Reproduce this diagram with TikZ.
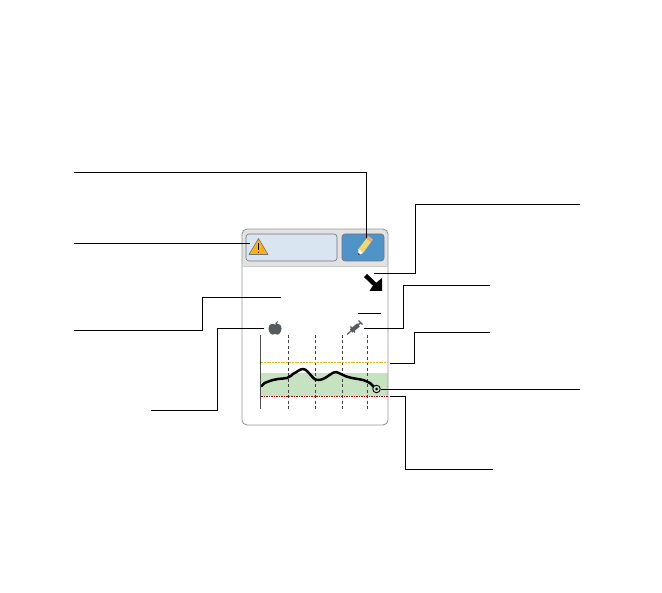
\documentclass[tikz,border=0pt]{standalone}
\usetikzlibrary{arrows.meta}
\definecolor{paneledge}{RGB}{150,150,150}
\definecolor{headfill}{RGB}{226,226,226}
\definecolor{warnfill}{RGB}{218,229,242}
\definecolor{bluefill}{RGB}{78,148,200}
\definecolor{bandgreen}{RGB}{198,226,192}
\definecolor{icongray}{RGB}{85,92,96}
\definecolor{warnorange}{RGB}{255,175,25}
\definecolor{pencilyellow}{RGB}{245,215,110}
\definecolor{pencilpink}{RGB}{235,170,140}
\definecolor{limityellow}{RGB}{240,180,20}
\tikzset{
  leader/.style={draw=black,line width=0.9pt},
  gridline/.style={draw=black!75,line width=0.7pt,dash pattern=on 3pt off 2.5pt},
  btn/.style={draw=black!55,line width=0.6pt,rounded corners=3pt}
}
\begin{document}
\begin{tikzpicture}[x=1pt,y=-1pt]
\useasboundingbox (0,0) rectangle (662,593);
\fill[white] (0,0) rectangle (662,593);
% panel
\begin{scope}
\path[clip,rounded corners=5pt] (242,229) rectangle (388,425);
\fill[headfill] (242,229) rectangle (388,266);
\fill[bandgreen] (261,373) rectangle (388,396);
\end{scope}
\draw[paneledge,line width=0.9pt,rounded corners=5pt] (242,229) rectangle (388,425);
\draw[black!20,line width=1.4pt] (243,266.5) -- (387,266.5);
\node[btn,fill=warnfill,minimum width=91pt,minimum height=27pt,inner sep=0pt] (warnbox) at (291.5,247.5) {};
\node[btn,fill=bluefill,minimum width=42pt,minimum height=27pt,inner sep=0pt] (editbox) at (363,247.5) {};
% warning triangle
\draw[fill=warnorange,draw=black!55,line width=0.6pt,line join=round] (249,254.5) -- (258.5,238.5) -- (268,254.5) -- cycle;
\draw[black,line width=0.8pt] (258.5,243) -- (258.5,250);
\fill[black] (258.5,252.3) circle (0.6pt);
% pencil
\fill[pencilyellow] (358.5,249) -- (366.5,238.5) -- (371,242) -- (363,253) -- cycle;
\fill[pencilpink] (366.5,238.5) -- (368.5,236) -- (373,239.5) -- (371,242) -- cycle;
\fill[white] (358.5,249) -- (363,253) -- (358,255.5) -- cycle;
\fill[black!70] (358,255.5) -- (358.2,253) -- (360.3,254.3) -- cycle;
% trend arrow
\draw[black,line width=4.4pt] (365.5,275.5) -- (377,286.5);
\fill[black] (382,291) -- (369.5,291) -- (373,285.5) -- (382,278) -- cycle;
% apple
\fill[icongray] (275,334) .. controls (271,336.5) and (268.5,331.5) .. (268.5,328.5) .. controls (268.5,324) and (272.5,323) .. (275,324.5) .. controls (277.5,323) and (281.5,324) .. (281.5,328.5) .. controls (281.5,331.5) and (279,336.5) .. (275,334) -- cycle;
\fill[icongray] (275,323.5) -- (278,321) -- (277,324) -- cycle;
% syringe
\draw[icongray,line width=4.2pt] (351,331) -- (358.5,325);
\draw[icongray,line width=1.2pt] (347,334.5) -- (351,331);
\draw[icongray,line width=1.4pt] (358,325) -- (361,322.5);
\draw[icongray,line width=1.2pt] (358.5,320.5) -- (362.5,324.5);
\draw[icongray,line width=1.2pt] (350.5,326.5) -- (355,332.5);
% chart
\draw[black!70,line width=0.8pt] (260.5,335) -- (260.5,409);
\foreach \gx in {288.5,315.5,342,367.5} \draw[gridline] (\gx,335) -- (\gx,409);
\draw[draw=limityellow,line width=1pt,dash pattern=on 2pt off 0.8pt] (261,363) -- (388,363);
\draw[draw=red!70!black,line width=0.9pt,dash pattern=on 1.5pt off 1pt] (261,396) -- (388,396);
\draw[black,line width=2.5pt,line cap=round,line join=round]
  (261.7,386) .. controls (264,383) and (266,382) .. (268,381.7)
  .. controls (272,380) and (275,379.5) .. (278,379)
  .. controls (282,378.5) and (285,378.5) .. (287,378)
  .. controls (290,377) and (292,375) .. (293,374)
  .. controls (297,372) and (300,369) .. (303,369)
  .. controls (305,369) and (306,370) .. (308,372)
  .. controls (311,375) and (314,380) .. (317,380)
  .. controls (319,380) and (321,380) .. (323,379)
  .. controls (328,377) and (332,372) .. (336,372)
  .. controls (340,373) and (344,376) .. (348,377)
  .. controls (353,378.5) and (359,379) .. (363,380)
  .. controls (366,381) and (368,382) .. (370,383)
  .. controls (372,385) and (374,387) .. (376,389);
\node[circle,draw=black,line width=0.9pt,fill=bandgreen,minimum size=7.5pt,inner sep=0pt] (nowmark) at (376.5,389) {};
\fill[black] (nowmark.center) circle (1.5pt);
% leader anchors
\coordinate (a1) at (74,172);   \coordinate (a1t) at (366,238);
\coordinate (a2) at (74,243);   \coordinate (a2t) at (250,243);
\coordinate (a3) at (74,330);   \coordinate (a3t) at (281,297);
\coordinate (a4) at (151,410);  \coordinate (a4t) at (264,328);
\coordinate (a5) at (580,204);  \coordinate (a5t) at (374,273);
\coordinate (a6) at (490,285);  \coordinate (a6t) at (364,328);
\coordinate (a7) at (490,332);  \coordinate (a7t) at (390,363);
\coordinate (a8) at (580,389);
\coordinate (a9) at (493,469);  \coordinate (a9t) at (390,396);
\coordinate (b1) at (358,313);  \coordinate (b2) at (381,313);
\draw[leader] (a1) -- (366,172) -- (a1t);
\draw[leader] (a2) -- (a2t);
\draw[leader] (a3) -- (202,330) -- (202,297) -- (a3t);
\draw[leader] (a4) -- (217,410) -- (217,328) -- (a4t);
\draw[leader] (a5) -- (415,204) -- (415,273) -- (a5t);
\draw[leader] (a6) -- (403,285) -- (403,328) -- (a6t);
\draw[leader] (a7) -- (414,332) -- (414,363) -- (a7t);
\draw[leader] (a8) -- (nowmark.east |- a8);
\draw[leader] (a9) -- (405,469) -- (405,396) -- (a9t);
\draw[leader] (b1) -- (b2);
\end{tikzpicture}
\end{document}
